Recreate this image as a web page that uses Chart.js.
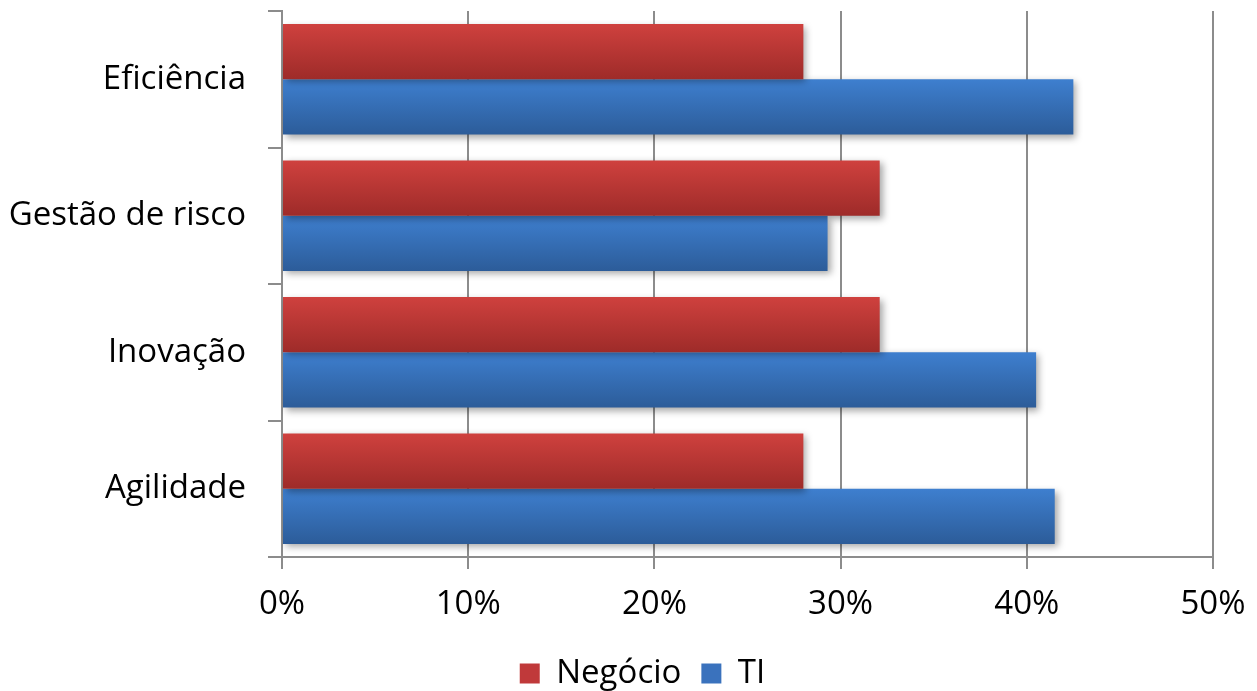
<!DOCTYPE html>
<html>
<head>
<meta charset="utf-8">
<script src="https://cdn.jsdelivr.net/npm/chart.js@4/dist/chart.umd.min.js"></script>
<style>
  html, body { margin: 0; padding: 0; background: #fff; }
  #wrap { width: 1257px; height: 691px; }
</style>
</head>
<body>
<div id="wrap"><canvas id="chart"></canvas></div>
<script>
// ── Data ──────────────────────────────────────
const categories = ['Eficiência', 'Gestão de risco', 'Inovação', 'Agilidade'];
const negocio    = [28.0, 32.1, 32.1, 28.0];
const ti         = [42.5, 29.3, 40.5, 41.5];
const xTicks     = [0, 10, 20, 30, 40, 50];

const RED  = { top: '#cf413e', bottom: '#9e2b29', flat: '#c0393a' };
const BLUE = { top: '#3e7fcf', bottom: '#2c5c99', flat: '#3a72bd' };
const GRIDC = '#8c8c8c';
const FONT = '"Open Sans", Lato, sans-serif';
const FSIZE = 33;

// vertical gradient per bar, built from the element's own geometry
function barGradient(pal) {
  return (c) => {
    const el = c.element;
    const ctx = c.chart.ctx;
    if (!el || !el.height || !isFinite(el.y)) return pal.flat;
    const g = ctx.createLinearGradient(0, el.y - el.height / 2, 0, el.y + el.height / 2);
    g.addColorStop(0, pal.top);
    g.addColorStop(1, pal.bottom);
    return g;
  };
}

// soft drop shadow under the bars
const barShadow = {
  id: 'barShadow',
  beforeDatasetsDraw(chart) {
    const ctx = chart.ctx;
    ctx.save();
    ctx.shadowColor = 'rgba(0,0,0,0.35)';
    ctx.shadowBlur = 7;
    ctx.shadowOffsetX = 3;
    ctx.shadowOffsetY = 3;
  },
  afterDatasetsDraw(chart) {
    chart.ctx.restore();
  },
};

// legend sits a bit right of the canvas centre in the original
const legendNudge = {
  id: 'legendNudge',
  afterLayout(chart) {
    if (chart.legend) chart.legend.left += 72;
  },
};

const chart = new Chart(document.getElementById('chart'), {
  type: 'bar',
  data: {
    labels: categories,
    datasets: [
      { label: 'Negócio', data: negocio, backgroundColor: barGradient(RED),  borderWidth: 0 },
      { label: 'TI',      data: ti,      backgroundColor: barGradient(BLUE), borderWidth: 0 },
    ],
  },
  options: {
    indexAxis: 'y',
    responsive: true,
    maintainAspectRatio: false,
    animation: false,
    datasets: { bar: { barPercentage: 1, categoryPercentage: 0.81 } },
    layout: { padding: { top: 11, right: 44, left: 0, bottom: -9 } },
    scales: {
      x: {
        min: 0, max: 50,
        afterBuildTicks: (s) => { s.ticks = xTicks.map(v => ({ value: v })); },
        afterFit: (s) => { s.paddingRight = 44; s.paddingLeft = 0; s.height = 80; },
        grid: { color: GRIDC, lineWidth: 2, tickLength: 12, drawTicks: true },
        border: { color: GRIDC, width: 2 },
        ticks: {
          color: '#000', padding: 16,
          font: { family: FONT, size: FSIZE },
          callback: (v) => v + '%',
        },
      },
      y: {
        afterFit: (s) => { s.width = 282; s.paddingTop = 11; s.paddingBottom = 0; },
        grid: { drawOnChartArea: false, color: GRIDC, lineWidth: 2, tickLength: 14, offset: true },
        border: { color: GRIDC, width: 2 },
        ticks: { color: '#000', padding: 22, font: { family: FONT, size: FSIZE } },
      },
    },
    plugins: {
      tooltip: { enabled: false },
      legend: {
        position: 'bottom',
        labels: {
          color: '#000',
          font: { family: FONT, size: FSIZE },
          boxWidth: 20, boxHeight: 20, padding: 20,
          generateLabels: (ch) => ch.data.datasets.map((d, i) => ({
            text: d.label,
            fillStyle: i === 0 ? RED.flat : BLUE.flat,
            strokeStyle: 'transparent',
            lineWidth: 0,
            datasetIndex: i,
            fontColor: '#000',
          })),
        },
      },
    },
  },
  plugins: [barShadow, legendNudge],
});
// second pass so gradients are built with the final bar positions
chart.update();
</script>
</body>
</html>
